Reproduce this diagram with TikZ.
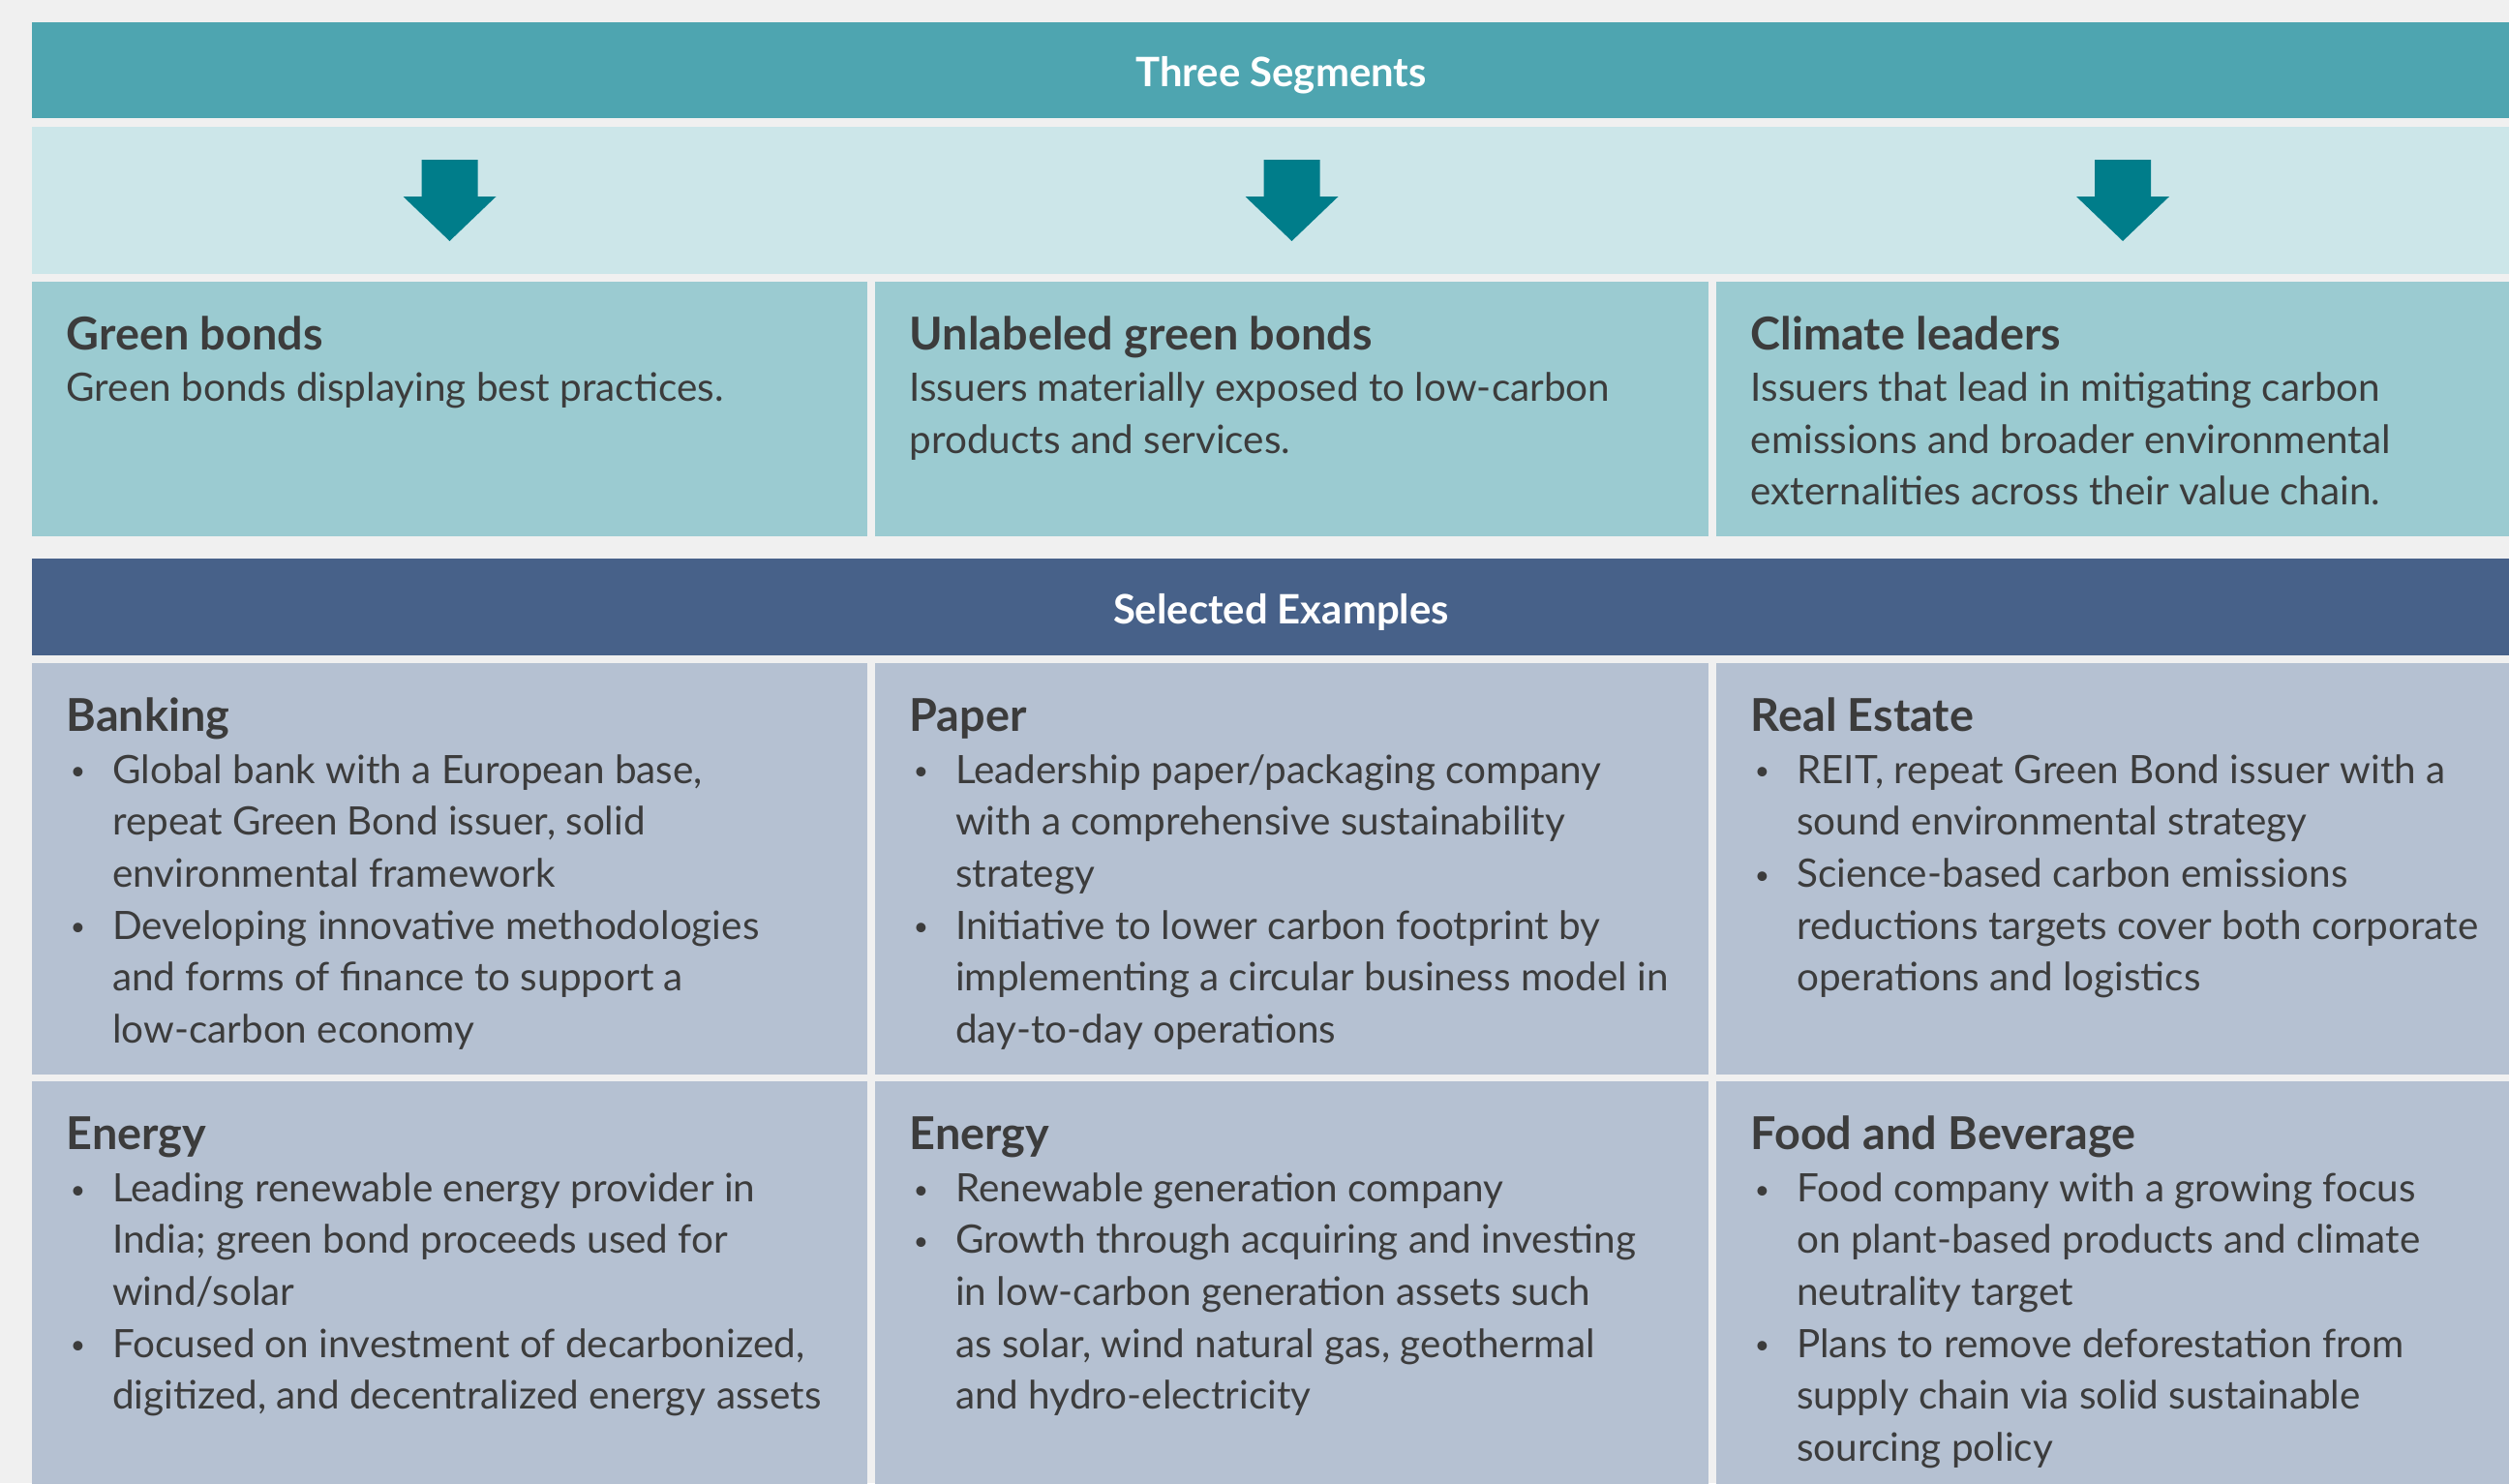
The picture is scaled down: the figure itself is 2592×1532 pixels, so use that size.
\documentclass[tikz,border=0pt]{standalone}
\usepackage{fontspec}
\setmainfont{Lato}
\definecolor{bggray}{HTML}{F0F0F0}
\definecolor{hdteal}{HTML}{4EA5B0}
\definecolor{bandteal}{HTML}{CCE6E9}
\definecolor{segteal}{HTML}{9BCBD1}
\definecolor{arrteal}{HTML}{007D8A}
\definecolor{hdblue}{HTML}{476189}
\definecolor{exblue}{HTML}{B5C1D2}
\definecolor{txtgray}{HTML}{3C3C3C}
\newcommand\bul{\makebox[13.5pt][l]{\hspace{1.2pt}\raisebox{0.9pt}{\fontsize{7.5}{8}\selectfont\textbullet}}}
\newcommand\indt{\hspace*{13.5pt}}
\newcommand\ttl[1]{{\fontsize{13.3}{15.25}\selectfont\bfseries #1}}
\newcommand\blk[1]{\begin{tabular}[t]{@{}l@{}}#1\end{tabular}}
\begin{document}
\begin{tikzpicture}[x=0.01cm,y=-0.01cm,
  txt/.style={anchor=base west,inner sep=0,text=txtgray,font=\fontsize{11.5}{15.25}\selectfont},
  hdr/.style={inner sep=0,text=white,font=\fontsize{11.9}{14}\selectfont\bfseries}]
\useasboundingbox (0,0) rectangle (2592,1532);
\fill[bggray] (0,0) rectangle (2592,1532);
\clip (0,0) rectangle (2592,1532);
% bars and cells
\fill[hdteal] (33,23) rectangle (2614,122);\fill[bandteal] (33,131) rectangle (2614,283);
\fill[hdblue] (33,577) rectangle (2614,677);
\foreach \l/\r in {33/896,904/1765,1773/2614}{\fill[segteal] (\l,291) rectangle (\r,554);
  \fill[exblue] (\l,685) rectangle (\r,1110);\fill[exblue] (\l,1117) rectangle (\r,1540);}
\foreach \c in {464.5,1334.5,2193}
  \fill[arrteal] (\c-29,165)--(\c+29,165)--(\c+29,203)--(\c+48,203)--(\c,249)--(\c-48,203)--(\c-29,203)--cycle;
\node[hdr] (seghd) at (1323.5,77.5) {Three Segments};
\node[hdr] (exhd) at (1323.5,632) {Selected Examples};
% three segments
\node[txt] (gbonds) at (68,361) {\blk{\ttl{Green bonds}\\Green bonds displaying best practices.}};
\node[txt] (ugbonds) at (939,361) {\blk{\ttl{Unlabeled green bonds}\\Issuers materially exposed to low-carbon\\products and services.}};
\node[txt] (climlead) at (1808,361) {\blk{\ttl{Climate leaders}\\Issuers that lead in mitigating carbon\\emissions and broader environmental\\externalities across their value chain.}};
% selected examples
\node[txt] (banking) at (68,755.5) {\blk{\ttl{Banking}\\\bul Global bank with a European base,\\\indt repeat Green Bond issuer, solid\\\indt environmental framework\\
  \bul Developing innovative methodologies\\\indt and forms of finance to support a\\\indt low-carbon economy}};
\node[txt] (paper) at (939,755.5) {\blk{\ttl{Paper}\\\bul Leadership paper/packaging company\\\indt with a comprehensive sustainability\\\indt strategy\\
  \bul Initiative to lower carbon footprint by\\\indt implementing a circular business model in\\\indt day-to-day operations}};
\node[txt] (realest) at (1808,755.5) {\blk{\ttl{Real Estate}\\\bul REIT, repeat Green Bond issuer with a\\\indt sound environmental strategy\\
  \bul Science-based carbon emissions\\\indt reductions targets cover both corporate\\\indt operations and logistics}};
\node[txt] (energya) at (68,1187.5) {\blk{\ttl{Energy}\\\bul Leading renewable energy provider in\\\indt India; green bond proceeds used for\\\indt wind/solar\\
  \bul Focused on investment of decarbonized,\\\indt digitized, and decentralized energy assets}};
\node[txt] (energyb) at (939,1187.5) {\blk{\ttl{Energy}\\\bul Renewable generation company\\
  \bul Growth through acquiring and investing\\\indt in low-carbon generation assets such\\\indt as solar, wind natural gas, geothermal\\\indt and hydro-electricity}};
\node[txt] (foodbev) at (1808,1187.5) {\blk{\ttl{Food and Beverage}\\\bul Food company with a growing focus\\\indt on plant-based products and climate\\\indt neutrality target\\
  \bul Plans to remove deforestation from\\\indt supply chain via solid sustainable\\\indt sourcing policy}};
\end{tikzpicture}
\end{document}
